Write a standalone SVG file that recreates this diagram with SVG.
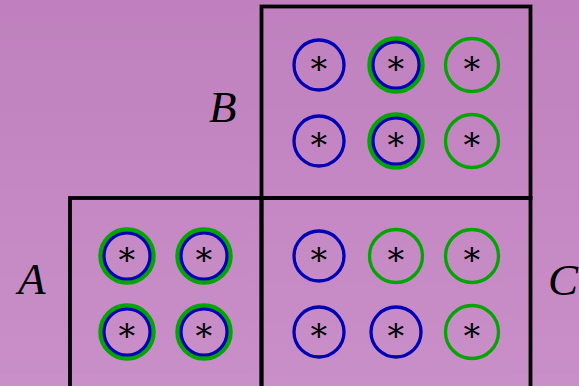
<svg xmlns="http://www.w3.org/2000/svg" width="579" height="386" viewBox="0 0 579 386">
<defs>
<linearGradient id="bg" x1="0" y1="0" x2="0" y2="1">
<stop offset="0" stop-color="#c080bf"/>
<stop offset="1" stop-color="#c98fc8"/>
</linearGradient>
<style>
.box{fill:none;stroke:#000;stroke-width:3.8}
.b{fill:none;stroke:#0000b4;stroke-width:3.3}
.g{fill:none;stroke:#00a600;stroke-width:3.3}
.gb{fill:none;stroke:#00a600;stroke-width:4.5}
.ib{fill:none;stroke:#0000b4;stroke-width:3.2}
.ast{font-family:"DejaVu Serif",serif;font-size:33px;text-anchor:middle;dominant-baseline:central;fill:#000}
.lbl{font-family:"Liberation Serif",serif;font-style:italic;font-size:45px;fill:#000}
</style>
</defs>
<rect width="579" height="386" fill="url(#bg)"/>
<g id="boxes">
<rect id="boxB" class="box" x="261.5" y="6.5" width="269" height="191.5"/>
<rect id="boxA" class="box" x="70" y="198" width="191.5" height="200"/>
<rect id="boxC" class="box" x="261.5" y="198" width="269" height="200"/>
</g>
<g id="labels">
<text class="lbl" x="209" y="122">B</text>
<text class="lbl" x="18" y="294">A</text>
<text class="lbl" x="548" y="295">C</text>
</g>
<g id="nodeB">
<circle class="b" cx="319" cy="65" r="25"/>
<circle class="gb" cx="396" cy="65" r="26.5"/><circle class="ib" cx="396" cy="65" r="23"/>
<circle class="g" cx="472" cy="65" r="26.5"/>
<circle class="b" cx="319" cy="141" r="25"/>
<circle class="gb" cx="396" cy="141" r="26.5"/><circle class="ib" cx="396" cy="141" r="23"/>
<circle class="g" cx="472" cy="141" r="26.5"/>
<text class="ast" x="319" y="62">∗</text><text class="ast" x="396" y="62">∗</text><text class="ast" x="472" y="62">∗</text>
<text class="ast" x="319" y="138">∗</text><text class="ast" x="396" y="138">∗</text><text class="ast" x="472" y="138">∗</text>
</g>
<g id="nodeA">
<circle class="gb" cx="127" cy="256" r="26.5"/><circle class="ib" cx="127" cy="256" r="23"/>
<circle class="gb" cx="204" cy="256" r="26.5"/><circle class="ib" cx="204" cy="256" r="23"/>
<circle class="gb" cx="127" cy="332" r="26.5"/><circle class="ib" cx="127" cy="332" r="23"/>
<circle class="gb" cx="204" cy="332" r="26.5"/><circle class="ib" cx="204" cy="332" r="23"/>
<text class="ast" x="127" y="253">∗</text><text class="ast" x="204" y="253">∗</text>
<text class="ast" x="127" y="329">∗</text><text class="ast" x="204" y="329">∗</text>
</g>
<g id="nodeC">
<circle class="b" cx="319" cy="256" r="25"/>
<circle class="g" cx="396" cy="256" r="26.5"/>
<circle class="g" cx="472" cy="256" r="26.5"/>
<circle class="b" cx="319" cy="332" r="25"/>
<circle class="b" cx="396" cy="332" r="25"/>
<circle class="g" cx="472" cy="332" r="26.5"/>
<text class="ast" x="319" y="253">∗</text><text class="ast" x="396" y="253">∗</text><text class="ast" x="472" y="253">∗</text>
<text class="ast" x="319" y="329">∗</text><text class="ast" x="396" y="329">∗</text><text class="ast" x="472" y="329">∗</text>
</g>
<g id="connectors"></g>
</svg>
